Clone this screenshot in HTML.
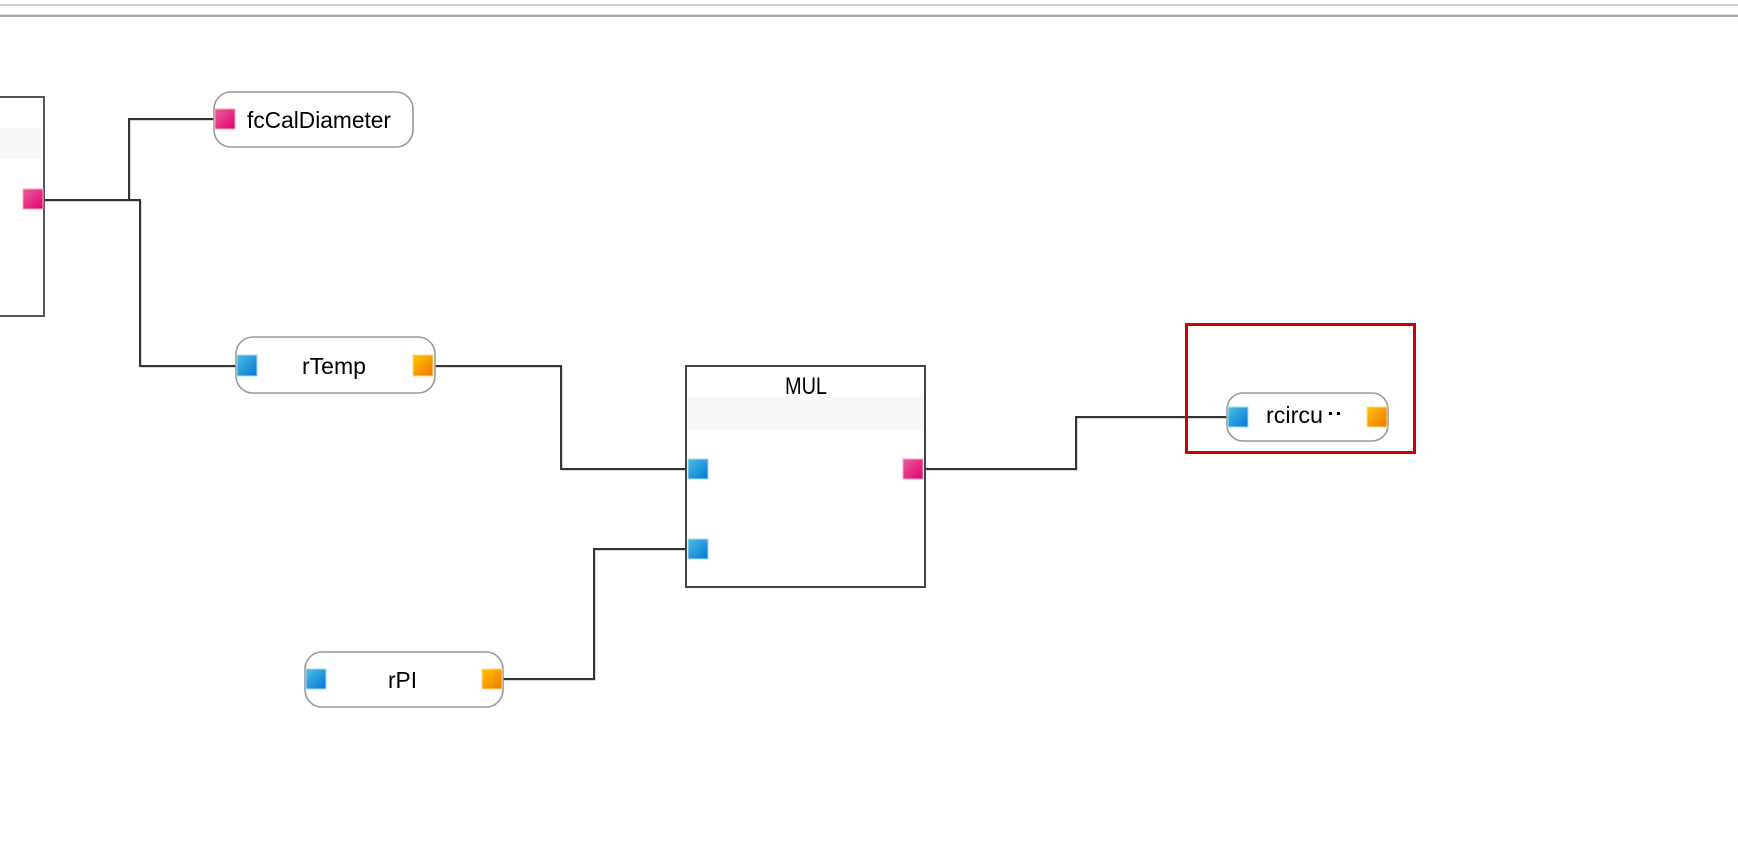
<!DOCTYPE html>
<html><head><meta charset="utf-8"><style>
html,body{margin:0;padding:0;background:#fff;}
body{width:1738px;height:842px;overflow:hidden;}
svg{display:block;}
text{font-family:"Liberation Sans","Noto Sans CJK JP",sans-serif;fill:#000;}
</style></head><body>
<svg width="1738" height="842" viewBox="0 0 1738 842" xmlns="http://www.w3.org/2000/svg">
<defs>
<linearGradient id="gb" x1="0" y1="0" x2="1" y2="1"><stop offset="0" stop-color="#52bde0"/><stop offset="1" stop-color="#0078d8"/></linearGradient>
<linearGradient id="gp" x1="0" y1="0" x2="1" y2="1"><stop offset="0" stop-color="#ec5fa0"/><stop offset="1" stop-color="#e0006a"/></linearGradient>
<linearGradient id="go" x1="0" y1="0" x2="1" y2="1"><stop offset="0" stop-color="#ffc400"/><stop offset="1" stop-color="#f07800"/></linearGradient>
</defs>

<!-- top bars -->
<rect x="0" y="4" width="1738" height="2" fill="#d0d0d0"/>
<rect x="0" y="14" width="1738" height="1" fill="#dcdcdc"/>
<rect x="0" y="15" width="1738" height="2" fill="#a8a8a8"/>

<!-- connectors -->
<g fill="none" stroke-linejoin="miter" shape-rendering="crispEdges">
<g stroke="#b0b0b0" stroke-width="1" transform="translate(1,1)">
<polyline points="44,200 129,200 129,119 214,119"/>
<polyline points="129,200 140,200 140,366 236,366"/>
<polyline points="435,366 561,366 561,469 686,469"/>
<polyline points="925,469 1076,469 1076,417 1227,417"/>
<polyline points="503,679 594,679 594,549 686,549"/>
</g>
<g stroke="#333" stroke-width="2">
<polyline points="44,200 129,200 129,119 214,119"/>
<polyline points="129,200 140,200 140,366 236,366"/>
<polyline points="435,366 561,366 561,469 686,469"/>
<polyline points="925,469 1076,469 1076,417 1227,417"/>
<polyline points="503,679 594,679 594,549 686,549"/>
</g>
</g>

<!-- left block (cut off) -->
<rect x="-10" y="97" width="54" height="219" fill="#fff" stroke="#555" stroke-width="2"/>
<rect x="0" y="128" width="42" height="31" fill="#f8f8f8"/>
<rect x="23" y="189" width="20" height="20" fill="url(#gp)" stroke="#f5a8c8" stroke-width="1"/>

<!-- fcCalDiameter pill -->
<rect x="214" y="92" width="199" height="55" rx="17" fill="#fff" stroke="#999" stroke-width="1.6"/>
<rect x="215" y="109" width="20" height="20" fill="url(#gp)" stroke="#f5a8c8" stroke-width="1"/>
<text x="247" y="128" font-size="23" textLength="144" lengthAdjust="spacingAndGlyphs">fcCalDiameter</text>

<!-- rTemp pill -->
<rect x="236" y="337" width="199" height="56" rx="17" fill="#fff" stroke="#999" stroke-width="1.6"/>
<rect x="237" y="355" width="20" height="21" fill="url(#gb)" stroke="#a8dcf0" stroke-width="1"/>
<rect x="413" y="355" width="20" height="21" fill="url(#go)" stroke="#ffd890" stroke-width="1"/>
<text x="302" y="374" font-size="23" textLength="64" lengthAdjust="spacingAndGlyphs">rTemp</text>

<!-- MUL block -->
<rect x="686" y="366" width="239" height="221" fill="#fff" stroke="#444" stroke-width="2"/>
<rect x="688" y="397" width="235" height="33" fill="#f8f8f8"/>
<text x="785" y="394" font-size="24" textLength="42" lengthAdjust="spacingAndGlyphs">MUL</text>
<rect x="688" y="459" width="20" height="20" fill="url(#gb)" stroke="#a8dcf0" stroke-width="1"/>
<rect x="688" y="539" width="20" height="20" fill="url(#gb)" stroke="#a8dcf0" stroke-width="1"/>
<rect x="903" y="459" width="20" height="20" fill="url(#gp)" stroke="#f5a8c8" stroke-width="1"/>

<!-- rPI pill -->
<rect x="305" y="652" width="198" height="55" rx="17" fill="#fff" stroke="#999" stroke-width="1.6"/>
<rect x="306" y="669" width="20" height="20" fill="url(#gb)" stroke="#a8dcf0" stroke-width="1"/>
<rect x="482" y="669" width="20" height="20" fill="url(#go)" stroke="#ffd890" stroke-width="1"/>
<text x="388" y="688" font-size="23" textLength="29" lengthAdjust="spacingAndGlyphs">rPI</text>

<!-- rcircu pill -->
<rect x="1227" y="393" width="161" height="48" rx="16" fill="#fff" stroke="#999" stroke-width="1.6"/>
<rect x="1228" y="407" width="20" height="20" fill="url(#gb)" stroke="#a8dcf0" stroke-width="1"/>
<rect x="1367" y="407" width="20" height="20" fill="url(#go)" stroke="#ffd890" stroke-width="1"/>
<text x="1266" y="423" font-size="23" textLength="57" lengthAdjust="spacingAndGlyphs">rcircu</text>
<rect x="1329" y="412" width="3" height="3" fill="#000"/>
<rect x="1337" y="412" width="3" height="3" fill="#000"/>

<!-- red highlight box -->
<rect x="1186.5" y="324.5" width="228" height="128" fill="none" stroke="#d00000" stroke-width="3"/>
</svg>
</body></html>
